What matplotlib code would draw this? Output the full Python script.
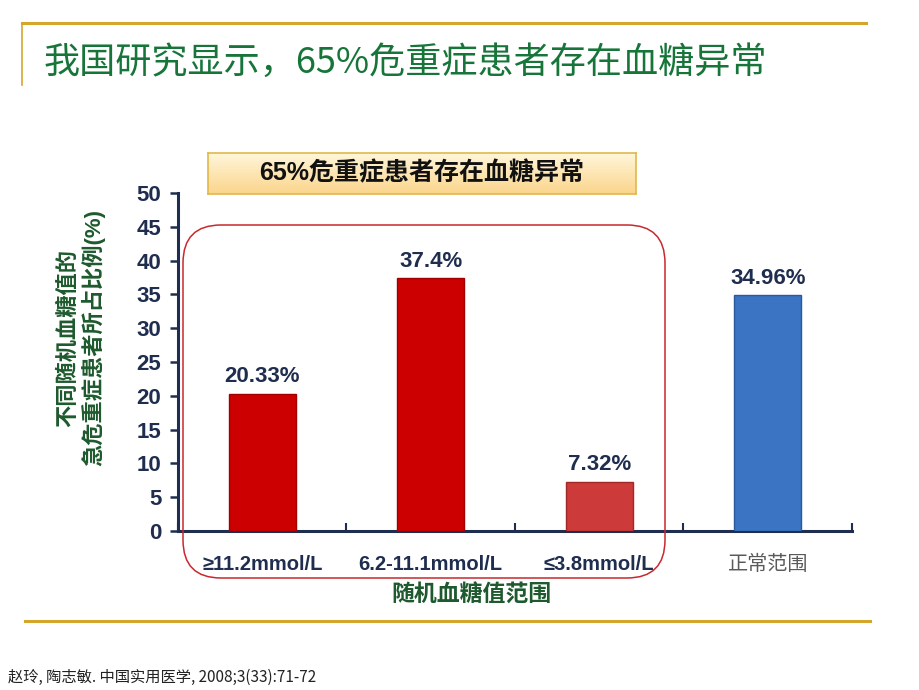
import matplotlib
matplotlib.use("Agg")
import matplotlib.pyplot as plt
import numpy as np
from matplotlib.patches import FancyBboxPatch
from matplotlib.transforms import IdentityTransform
from matplotlib.lines import Line2D
from matplotlib.colors import LinearSegmentedColormap

# data
categories = ["≥11.2mmol/L", "6.2-11.1mmol/L", "≤3.8mmol/L", "正常范围"]
values = [20.33, 37.4, 7.32, 34.96]
value_labels = ["20.33%", "37.4%", "7.32%", "34.96%"]
bar_colors = ["#CC0000", "#CC0000", "#CC3A3A", "#3B74C2"]
edge_colors = ["#A00000", "#A00000", "#A02828", "#2A5A9C"]

title = "我国研究显示，65%危重症患者存在血糖异常"
box_text = "65%危重症患者存在血糖异常"
ylabel = "不同随机血糖值的\n急危重症患者所占比例(%)"
xlabel = "随机血糖值范围"
source = "赵玲, 陶志敏. 中国实用医学, 2008;3(33):71-72"

FONTS = ["Liberation Sans", "Noto Sans CJK SC", "DejaVu Sans"]
plt.rcParams["font.family"] = FONTS
NAVY = "#1F2D4F"
GOLD = "#D4A72C"

W, H = 920, 690
fig = plt.figure(figsize=(9.2, 6.9), dpi=100)

def px(x, y):
    # pixel coords (top-left origin) -> figure fraction
    return x / W, 1 - y / H

# gold frame lines
fig.add_artist(Line2D([22 / W, 866 / W], [1 - 23 / H, 1 - 23 / H], color=GOLD, lw=2.2))
fig.add_artist(Line2D([22 / W, 22 / W], [1 - 23 / H, 1 - 85 / H], color=GOLD, lw=1.2))
fig.add_artist(Line2D([25 / W, 870 / W], [1 - 621 / H, 1 - 621 / H], color=GOLD, lw=2.2))

# title
fig.text(*px(44, 63), title, fontsize=26, color="#17753A", va="center", ha="left",
         family=["Noto Sans CJK SC", "DejaVu Sans"])

# main axes
ax = fig.add_axes([178 / W, 1 - 531 / H, 674 / W, 338 / H])
x = np.arange(len(categories))
ax.bar(x, values, width=0.4, color=bar_colors, edgecolor=edge_colors, linewidth=1.0, zorder=3)
for xi, v, lab in zip(x, values, value_labels):
    ax.text(xi, v + 0.9, lab, ha="center", va="bottom", fontsize=16, fontweight="bold", color=NAVY)

ax.set_xlim(-0.5, 3.5)
ax.set_ylim(0, 50)
ax.set_yticks(np.arange(0, 51, 5))
ax.set_xticks(x)
ax.set_xticklabels(categories)
ax.set_xticks(np.arange(-0.5, 3.6, 1), minor=True)
ax.tick_params(axis="x", which="major", length=0, pad=17, labelsize=14.5, colors=NAVY)
ax.tick_params(axis="x", which="minor", direction="in", length=6, width=1.5, color=NAVY)
ax.tick_params(axis="y", direction="out", length=6, width=1.8, color=NAVY, labelsize=16,
               labelcolor=NAVY, pad=6)
for lab in ax.get_xticklabels():
    lab.set_fontweight("bold")
last = ax.get_xticklabels()[-1]
last.set_fontweight("normal")
last.set_color("#5A5A5A")
last.set_fontsize(14.5)
for lab in ax.get_yticklabels():
    lab.set_fontweight("bold")
for side in ["top", "right"]:
    ax.spines[side].set_visible(False)
ax.spines["left"].set_color(NAVY)
ax.spines["left"].set_linewidth(2.2)
ax.spines["bottom"].set_color(NAVY)
ax.spines["bottom"].set_linewidth(2.2)

# axis labels
fig.text(*px(82, 338), ylabel, rotation=90, ha="center", va="center", fontsize=16,
         fontweight="bold", color="#1E5A2E", linespacing=1.1)
fig.text(*px(471, 595), xlabel, ha="center", va="center", fontsize=16.5,
         fontweight="bold", color="#1E5A2E")

# rounded red outline around the abnormal groups
rr = FancyBboxPatch((183, H - 578), 482, 353, boxstyle="round,pad=0,rounding_size=38",
                    transform=IdentityTransform(), fill=False, edgecolor="#C8282E", lw=1.1,
                    zorder=5)
fig.add_artist(rr)

# gradient annotation box
bx = fig.add_axes([208 / W, 1 - 194 / H, 428 / W, 41 / H])
grad = np.linspace(0, 1, 100).reshape(-1, 1)
cmap = LinearSegmentedColormap.from_list("g", ["#FFF6DA", "#FBD58C"])
bx.imshow(grad, aspect="auto", cmap=cmap, extent=[0, 1, 0, 1], origin="upper")
bx.set_xticks([])
bx.set_yticks([])
for s in bx.spines.values():
    s.set_color("#E2B84A")
    s.set_linewidth(1.2)
bx.text(0.5, 0.5, box_text, ha="center", va="center", fontsize=18, fontweight="bold",
        color="#111111", transform=bx.transAxes)

# source
fig.text(*px(8, 677), source, ha="left", va="center", fontsize=11, color="#222222",
         family=["Noto Sans CJK SC", "DejaVu Sans"])

fig.savefig("out.png", dpi=100)
